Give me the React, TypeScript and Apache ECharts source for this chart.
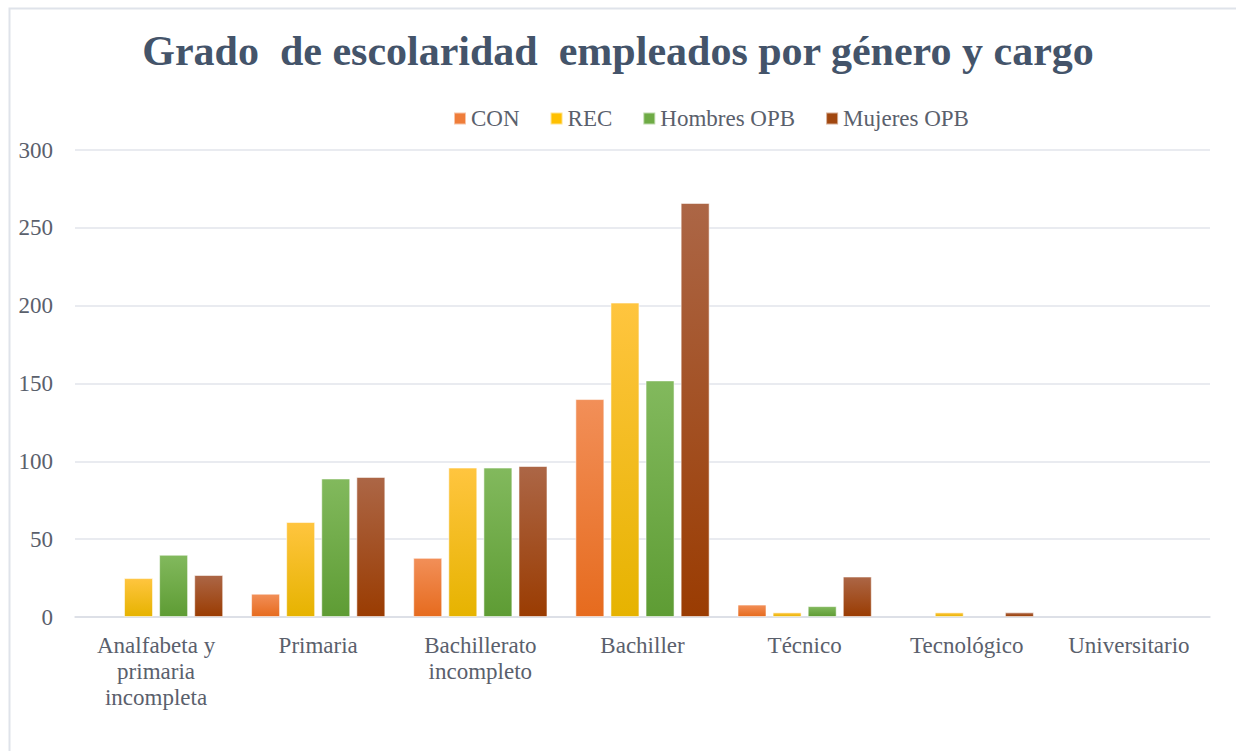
import React, { useEffect, useRef } from "react";
import * as echarts from "echarts";

const categories = [
  "Analfabeta y\nprimaria\nincompleta",
  "Primaria",
  "Bachillerato\nincompleto",
  "Bachiller",
  "Técnico",
  "Tecnológico",
  "Universitario",
];
const seriesNames = ["CON", "REC", "Hombres OPB", "Mujeres OPB"];
const conValues = [0, 15, 38, 140, 8, 0, 0];
const recValues = [25, 61, 96, 202, 3, 3, 0];
const hombresValues = [40, 89, 96, 152, 7, 0, 0];
const mujeresValues = [27, 90, 97, 266, 26, 3, 0];
const yTicks = [0, 50, 100, 150, 200, 250, 300];

const seriesColors = [
  { top: "#f28f58", bottom: "#e66b1e", solid: "#ef7d3a" },
  { top: "#ffc53f", bottom: "#e6b300", solid: "#ffc000" },
  { top: "#82b95d", bottom: "#5e9c34", solid: "#6eab45" },
  { top: "#ac6646", bottom: "#9a3c02", solid: "#a1470f" },
];

const FONT = "'Liberation Serif', 'Times New Roman', serif";
const TEXT = "#5a606c";

export default function App() {
  const ref = useRef<HTMLDivElement>(null);
  useEffect(() => {
    if (!ref.current) return;
    const chart = echarts.init(ref.current, undefined, { renderer: "svg" });
    const values = [conValues, recValues, hombresValues, mujeresValues];
    chart.setOption({
      animation: false,
      backgroundColor: "#ffffff",
      textStyle: { fontFamily: FONT },
      title: {
        text: "Grado  de escolaridad  empleados por género y cargo",
        left: "center",
        top: 25,
        textStyle: {
          fontFamily: FONT,
          fontSize: 42,
          fontWeight: "bold",
          color: "#44546a",
        },
      },
      legend: {
        left: 448,
        top: 102,
        itemWidth: 12,
        itemHeight: 12,
        itemGap: 30,
        icon: "rect",
        textStyle: { fontFamily: FONT, fontSize: 23, color: TEXT },
        data: seriesNames.map((n, i) => ({
          name: n,
          itemStyle: { color: seriesColors[i].solid },
        })),
      },
      graphic: [
        {
          type: "rect",
          left: 7,
          top: 6,
          shape: { width: 1300, height: 800 },
          style: { fill: "none", stroke: "#dfe3ea", lineWidth: 2 },
          silent: true,
          z: 0,
        },
      ],
      grid: { left: 75, right: 26, top: 150, bottom: 134 },
      xAxis: {
        type: "category",
        data: categories,
        axisLine: { lineStyle: { color: "#d9dde4", width: 1.5 } },
        axisTick: { show: false },
        axisLabel: {
          interval: 0,
          margin: 15,
          fontFamily: FONT,
          fontSize: 23,
          lineHeight: 26,
          color: TEXT,
        },
      },
      yAxis: {
        type: "value",
        min: 0,
        max: 300,
        interval: 50,
        axisLine: { show: false },
        axisTick: { show: false },
        splitLine: { lineStyle: { color: "#e2e5eb", width: 1.5 } },
        axisLabel: {
          margin: 22,
          fontFamily: FONT,
          fontSize: 23,
          color: TEXT,
          formatter: (v: number) => (yTicks.includes(v) ? String(v) : ""),
        },
      },
      series: seriesNames.map((name, i) => ({
        name,
        type: "bar",
        data: values[i].map((v) =>
          v === 0 ? { value: v, itemStyle: { borderWidth: 0, opacity: 0 } } : v
        ),
        barWidth: 29,
        barGap: "21%",
        itemStyle: {
          color: new echarts.graphic.LinearGradient(0, 0, 0, 1, [
            { offset: 0, color: seriesColors[i].top },
            { offset: 1, color: seriesColors[i].bottom },
          ]),
          borderColor: "rgba(255,255,255,0.55)",
          borderWidth: 1,
        },
      })),
    });
    return () => chart.dispose();
  }, []);
  return (
    <div
      ref={ref}
      style={{ position: "fixed", left: 0, top: 0, width: 1236, height: 751 }}
    />
  );
}
